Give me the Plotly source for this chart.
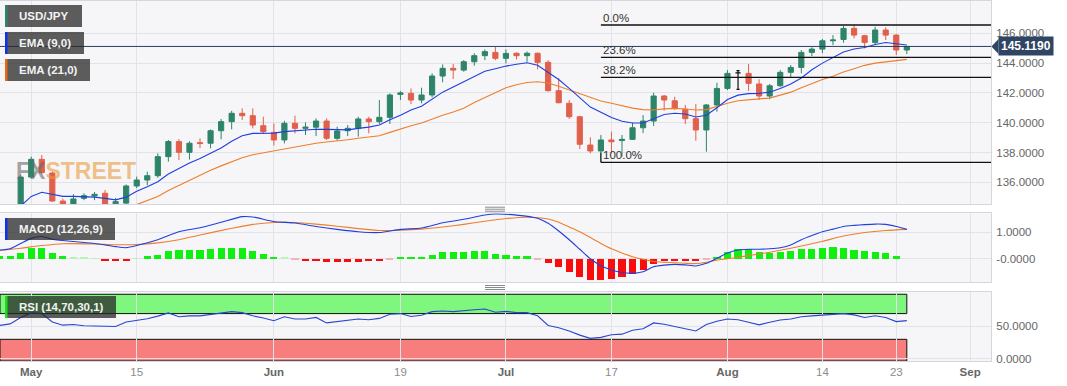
import plotly.graph_objects as go

# ---------------- data ----------------
# trading-day index 0 = 28 Apr 2023
candle_idx = list(range(85))
opens = [133.90, 136.35, 137.54, 136.62, 134.74, 134.30, 134.92, 135.08, 135.26, 134.55,
         134.60, 135.75, 136.15, 136.44, 137.72, 138.73, 138.01, 138.66, 138.62, 139.46,
         140.07, 140.63, 140.47, 139.80, 139.35, 138.84, 139.96, 139.62, 139.70, 140.11,
         138.95, 139.46, 139.62, 140.25, 140.07, 140.36, 141.90, 141.97, 141.52, 141.86,
         143.13, 143.65, 143.53, 144.09, 144.50, 144.72, 144.32, 144.66, 144.50, 144.66,
         144.05, 142.15, 141.30, 140.40, 138.50, 138.10, 138.84, 138.80, 138.88, 139.66,
         140.11, 141.79, 141.47, 140.90, 140.27, 139.51, 141.19, 142.30, 143.35, 143.31,
         142.60, 141.79, 142.48, 143.38, 143.71, 144.72, 144.94, 145.50, 145.59, 146.33,
         145.84, 145.39, 146.22, 145.88, 144.88]
highs = [136.50, 137.72, 137.83, 136.72, 134.90, 135.20, 135.26, 135.35, 135.48, 134.95,
         135.85, 136.38, 136.71, 137.94, 138.84, 138.90, 138.75, 138.95, 139.55, 140.25,
         140.80, 140.96, 140.96, 140.40, 139.95, 140.13, 140.47, 140.02, 140.29, 140.29,
         139.73, 139.84, 140.40, 140.40, 141.52, 141.97, 142.13, 142.30, 142.35, 143.31,
         143.91, 143.95, 144.20, 144.66, 144.92, 145.10, 144.92, 144.72, 144.78, 144.72,
         144.20, 142.98, 141.52, 140.45, 139.02, 139.17, 139.40, 139.17, 140.00, 140.51,
         142.01, 141.86, 141.74, 141.19, 141.25, 141.25, 142.68, 143.53, 143.49, 143.94,
         142.91, 142.60, 143.53, 143.87, 144.88, 145.06, 145.62, 145.88, 146.49, 146.55,
         145.90, 146.44, 146.40, 145.95, 145.15]
lows = [133.40, 136.30, 136.55, 134.70, 133.50, 134.10, 134.80, 134.80, 133.75, 134.20,
        134.40, 135.60, 135.80, 136.30, 137.38, 137.49, 137.52, 138.30, 138.28, 138.88,
        139.55, 140.18, 139.62, 139.28, 138.46, 138.61, 139.28, 139.17, 139.10, 138.84,
        138.80, 139.10, 139.06, 139.28, 139.91, 139.91, 141.52, 141.25, 141.30, 141.70,
        142.71, 142.93, 143.42, 143.82, 144.20, 144.20, 143.98, 144.25, 144.09, 143.58,
        142.08, 141.30, 140.25, 138.23, 137.94, 137.34, 137.94, 137.72, 138.85, 139.30,
        139.78, 140.81, 140.85, 139.91, 138.79, 138.05, 140.74, 142.19, 142.24, 142.13,
        141.52, 141.57, 142.40, 143.04, 143.31, 144.47, 144.66, 145.21, 145.37, 145.66,
        144.99, 145.21, 145.55, 144.54, 144.61]
closes = [136.35, 137.54, 136.65, 134.74, 134.30, 134.88, 135.10, 135.19, 134.28, 134.70,
          135.75, 136.15, 136.44, 137.72, 138.73, 138.01, 138.62, 138.60, 139.46, 140.07,
          140.63, 140.47, 139.84, 139.40, 138.84, 139.96, 139.62, 139.70, 140.11, 138.95,
          139.44, 139.62, 140.25, 140.07, 140.36, 141.86, 142.00, 141.52, 141.86, 143.13,
          143.65, 143.53, 144.09, 144.50, 144.77, 144.32, 144.65, 144.50, 144.66, 144.05,
          142.15, 141.34, 140.40, 138.55, 138.10, 138.84, 138.72, 138.88, 139.66, 140.11,
          141.79, 141.52, 140.96, 140.27, 139.51, 141.19, 142.30, 143.31, 143.35, 142.64,
          141.79, 142.48, 143.38, 143.71, 144.72, 144.94, 145.50, 145.55, 146.33, 145.88,
          145.39, 146.22, 145.88, 144.88, 145.119]
doji_idx = [68]

ema9_idx = list(range(85))
ema9 = [134.4, 135.05, 135.33, 135.2, 135.05, 135.05, 135.05, 135.0, 134.92, 134.82,
        135.0, 135.4, 135.7, 136.04, 136.55, 136.95, 137.3, 137.6, 137.95, 138.3,
        138.75, 139.12, 139.28, 139.3, 139.3, 139.4, 139.45, 139.5, 139.56, 139.55,
        139.52, 139.52, 139.62, 139.7, 139.84, 140.2, 140.5, 140.85, 141.1, 141.6,
        142.05, 142.4, 142.75, 143.15, 143.45, 143.62, 143.8, 143.92, 144.02, 143.85,
        143.4, 142.9, 142.3, 141.65, 141.05, 140.7, 140.35, 140.1, 139.98, 139.98,
        140.25, 140.55, 140.63, 140.58, 140.38, 140.5, 141.0, 141.55, 141.85, 141.95,
        141.97, 142.05, 142.3, 142.6, 143.0, 143.55, 144.0, 144.4, 144.75, 144.95,
        145.05, 145.25, 145.38, 145.3, 145.22]
ema21_idx = list(range(11, 85))
ema21 = [134.5, 134.75, 135.05, 135.45, 135.8, 136.15, 136.45, 136.8, 137.1, 137.4,
         137.65, 137.85, 137.98, 138.07, 138.2, 138.35, 138.5, 138.62, 138.7, 138.75,
         138.85, 138.95, 139.02, 139.12, 139.35, 139.6, 139.8, 139.98, 140.25, 140.5,
         140.72, 140.97, 141.35, 141.7, 142.05, 142.35, 142.55, 142.7, 142.75, 142.66,
         142.45, 142.2, 141.9, 141.65, 141.45, 141.3, 141.12, 140.98, 140.88, 140.85,
         140.93, 140.96, 140.92, 140.85, 140.88, 141.1, 141.3, 141.47, 141.55, 141.6,
         141.65, 141.85, 142.05, 142.35, 142.65, 142.9, 143.12, 143.4, 143.62, 143.85,
         144.0, 144.1, 144.2, 144.25]

ind_idx = list(range(-2, 85))
macd_hist = [0.08, 0.08, 0.22, 0.38, 0.38, 0.22, 0.1, 0.03, 0.02, 0.01,
             -0.08, -0.08, -0.08, 0.01, 0.08, 0.15, 0.3, 0.31, 0.33, 0.33,
             0.36, 0.38, 0.41, 0.38, 0.29, 0.18, 0.07, 0.03, -0.02, -0.08,
             -0.08, -0.12, -0.14, -0.14, -0.13, -0.1, -0.1, -0.02, 0.07, 0.07,
             0.07, 0.14, 0.23, 0.23, 0.25, 0.27, 0.27, 0.18, 0.13, 0.08,
             0.08, -0.03, -0.16, -0.33, -0.5, -0.69, -0.83, -0.83, -0.78, -0.71,
             -0.59, -0.44, -0.21, -0.1, -0.09, -0.09, -0.08, -0.02, 0.07, 0.25,
             0.36, 0.36, 0.24, 0.21, 0.25, 0.3, 0.35, 0.37, 0.4, 0.42,
             0.41, 0.32, 0.27, 0.25, 0.21, 0.08, 0.0]
rsi = [51.5, 54, 64, 71, 70, 57, 52, 53, 51, 51,
       50, 50, 57, 59, 62, 66, 71, 65, 66.5, 66.5,
       69, 71.5, 73, 71.5, 66.5, 63, 59, 65, 61.5, 61.5,
       64, 55.5, 57.5, 59, 61.5, 60.5, 62.5, 69, 70, 65.5,
       67.5, 73, 74, 73, 75, 76, 77, 72, 73.5, 71.5,
       71.5, 66.5, 51.5, 48, 43, 36.5, 31.5, 33, 37, 38,
       44, 46.5, 55.5, 53.5, 50, 46.5, 43, 53, 58, 61.5,
       60.5, 56.5, 52.5, 56.5, 60, 61.5, 65, 66.5, 68, 68.5,
       70, 68, 64, 66.5, 64, 57.5, 59]

macd_x = [-2, -1, 0, 1, 2, 3, 5, 7, 9, 10, 11, 13, 15, 17, 19, 21, 22, 24, 26, 28, 30, 32, 34,
          36, 38, 40, 42, 44, 45, 47, 49, 50, 51, 52, 53, 54] + list(range(55, 85))
macd_line = [0.33, 0.38, 0.58, 0.77, 0.84, 0.74, 0.65, 0.58, 0.46, 0.42, 0.5, 0.72,
             1.02, 1.17, 1.38, 1.59, 1.58, 1.41, 1.35, 1.22, 1.11, 1.02, 0.99, 1.11,
             1.16, 1.36, 1.49, 1.65, 1.69, 1.65, 1.53, 1.34, 1.05, 0.72, 0.36, 0.0,
             -0.26, -0.42, -0.52, -0.55, -0.49, -0.3, -0.24, -0.21, -0.23, -0.27,
             -0.17, 0.02, 0.22, 0.33, 0.36, 0.36, 0.38, 0.42, 0.52, 0.72,
             0.88, 1.02, 1.12, 1.22, 1.26, 1.29, 1.31, 1.3, 1.22, 1.11]
signal_x = [-2, 0, 2, 4, 7, 9, 11, 13, 15, 17, 20, 22, 24, 26, 28, 30, 32, 34, 36, 38, 40, 42,
            44, 46, 48, 50, 51, 52, 53, 54] + list(range(55, 71)) + [72, 74, 76, 78, 80, 82, 84]
signal_line = [0.31, 0.4, 0.5, 0.57, 0.56, 0.53, 0.54, 0.6, 0.72, 0.9, 1.15, 1.3,
               1.37, 1.37, 1.31, 1.23, 1.14, 1.07, 1.08, 1.12, 1.2, 1.3, 1.42, 1.52,
               1.57, 1.5, 1.38, 1.2, 1.02, 0.8,
               0.58, 0.38, 0.22, 0.08, -0.02, -0.1, -0.13, -0.15, -0.17, -0.18, -0.13,
               -0.05, 0.0, 0.06, 0.12, 0.18,
               0.32, 0.48, 0.66, 0.86, 0.99, 1.07, 1.11]

last_price = 145.119
fib_high, fib_low, fib_start = 146.56, 137.34, 55
fib_pcts = [0.0, 23.6, 38.2, 100.0]
rsi_upper, rsi_lower = 70, 30

tick_idx_pos = [1, 11, 24, 36, 46, 56, 67, 76, 83, 90]
tick_labels = ["May", "15", "Jun", "19", "Jul", "17", "Aug", "14", "23", "Sep"]
month_labels = {"May", "Jun", "Jul", "Aug", "Sep"}

price_ticks = [136, 138, 140, 142, 144, 146]

# ---------------- geometry / style ----------------
FIG_W, FIG_H = 1067, 386
ML, MR, MT, MB = 0, 76, 1, 25
PW, PH = FIG_W - ML - MR, FIG_H - MT - MB


def fx(xp):
    return (xp - ML) / PW


def fy(yp):
    return (FIG_H - MB - yp) / PH


X_RANGE = [-1.96, 91.98]
Y_MAIN = [134.52, 148.17]
Y_MACD = [-0.887, 1.717]
Y_RSI = [-3.7, 104.0]

GREEN_C = "#2e8469"
RED_C = "#e0604c"
BLUE = "#1f3fe0"
ORANGE = "#f07d2a"
PLOT_BG = "#f6f6f8"
GRID = "#e2e3e8"
BORDER = "#d3d6dc"
FONT = "Liberation Sans, Arial, sans-serif"

fig = go.Figure()

# candles (regular)
reg = [i for i in candle_idx if i not in doji_idx]
fig.add_trace(go.Candlestick(
    x=reg, open=[opens[i] for i in reg], high=[highs[i] for i in reg],
    low=[lows[i] for i in reg], close=[closes[i] for i in reg],
    increasing=dict(line=dict(color=GREEN_C, width=1), fillcolor=GREEN_C),
    decreasing=dict(line=dict(color=RED_C, width=1), fillcolor=RED_C),
    whiskerwidth=0, xaxis="x", yaxis="y", showlegend=False, hoverinfo="skip"))
fig.add_trace(go.Candlestick(
    x=doji_idx, open=[opens[i] for i in doji_idx], high=[highs[i] for i in doji_idx],
    low=[lows[i] for i in doji_idx], close=[closes[i] for i in doji_idx],
    increasing=dict(line=dict(color="#111", width=1.2), fillcolor="#111"),
    decreasing=dict(line=dict(color="#111", width=1.2), fillcolor="#111"),
    whiskerwidth=0.6, xaxis="x", yaxis="y", showlegend=False, hoverinfo="skip"))

fig.add_trace(go.Scatter(x=ema21_idx, y=ema21, mode="lines", line=dict(color=ORANGE, width=1.1),
                         xaxis="x", yaxis="y", showlegend=False, hoverinfo="skip"))
fig.add_trace(go.Scatter(x=ema9_idx, y=ema9, mode="lines", line=dict(color=BLUE, width=1.1),
                         xaxis="x", yaxis="y", showlegend=False, hoverinfo="skip"))

# MACD histogram
hist_colors = []
for v in macd_hist:
    if v >= 0:
        hist_colors.append("#10f010" if v >= 0.04 else "#b6f3b6")
    else:
        hist_colors.append("#f80c0c" if v <= -0.04 else "#f5b4b4")
fig.add_trace(go.Bar(x=ind_idx, y=macd_hist, marker=dict(color=hist_colors, line=dict(width=0)),
                     width=0.68, xaxis="x2", yaxis="y2", showlegend=False, hoverinfo="skip"))
fig.add_trace(go.Scatter(x=signal_x, y=signal_line, mode="lines",
                         line=dict(color=ORANGE, width=1.1, shape="spline", smoothing=0.6),
                         xaxis="x2", yaxis="y2", showlegend=False, hoverinfo="skip"))
fig.add_trace(go.Scatter(x=macd_x, y=macd_line, mode="lines",
                         line=dict(color=BLUE, width=1.1, shape="spline", smoothing=0.6),
                         xaxis="x2", yaxis="y2", showlegend=False, hoverinfo="skip"))

# RSI
fig.add_trace(go.Scatter(x=ind_idx, y=rsi, mode="lines", line=dict(color="#2a46d0", width=1.1),
                         xaxis="x3", yaxis="y3", showlegend=False, hoverinfo="skip"))

# ---------------- shapes ----------------
shapes = []
# RSI zones
shapes.append(dict(type="rect", xref="x3", yref="y3", x0=X_RANGE[0], x1=candle_idx[-1],
                   y0=rsi_upper, y1=100, fillcolor="#7ff77f", line=dict(color="#111", width=1),
                   layer="below"))
shapes.append(dict(type="rect", xref="x3", yref="y3", x0=X_RANGE[0], x1=candle_idx[-1],
                   y0=Y_RSI[0], y1=rsi_lower, fillcolor="#f87e7e", line=dict(color="#111", width=1),
                   layer="below"))
# last price line
shapes.append(dict(type="line", xref="paper", yref="y", x0=0, x1=1, y0=last_price, y1=last_price,
                   line=dict(color="#2b3d64", width=1)))
# fibonacci lines
for p in fib_pcts:
    lvl = fib_high - p / 100 * (fib_high - fib_low)
    shapes.append(dict(type="line", xref="x", yref="y", x0=fib_start, x1=X_RANGE[1], y0=lvl, y1=lvl,
                       line=dict(color="#111", width=1.3)))
shapes.append(dict(type="line", xref="x", yref="y", x0=fib_start, x1=fib_start,
                   y0=fib_low, y1=fib_low + 0.65, line=dict(color="#111", width=1)))
# drag handles
for y0 in (207.2, 209.2, 211.2, 285.5, 287.5, 289.5):
    shapes.append(dict(type="line", xref="paper", yref="paper", x0=fx(485), x1=fx(505),
                       y0=fy(y0), y1=fy(y0), line=dict(color="#8a8a8a", width=1)))

# legend boxes
boxes = [("USD/JPY", GREEN_C, 82, 5, 27),
         ("EMA (9,0)", "#1030f0", 84, 32, 54),
         ("EMA (21,0)", "#e56a12", 90, 59, 81),
         ("MACD (12,26,9)", "#1030f0", 115, 218, 240),
         ("RSI (14,70,30,1)", "#18e018", 116, 296, 318)]
annotations = []
for text, col, xr, yt, yb in boxes:
    shapes.append(dict(type="rect", xref="paper", yref="paper", x0=fx(5), x1=fx(xr),
                       y0=fy(yb), y1=fy(yt), fillcolor="rgba(38,38,38,0.74)", line=dict(width=0)))
    shapes.append(dict(type="rect", xref="paper", yref="paper", x0=fx(5), x1=fx(7.5),
                       y0=fy(yb), y1=fy(yt), fillcolor=col, line=dict(width=0)))
    annotations.append(dict(text="<b>%s</b>" % text, xref="paper", yref="paper", x=fx(17),
                            y=fy((yt + yb) / 2), xanchor="left", yanchor="middle", showarrow=False,
                            font=dict(family=FONT, size=11.5, color="#f2f2f2")))

# price tag on the right
shapes.append(dict(type="path", xref="paper", yref="y",
                   path="M %f,%f L %f,%f L %f,%f Z" % (fx(991.5), last_price, fx(998.5), last_price + 0.5,
                                                      fx(998.5), last_price - 0.5),
                   fillcolor="#2f4563", line=dict(width=0)))
annotations.append(dict(text="<b>%.4f</b>" % last_price, xref="paper", yref="y", x=fx(998), y=last_price,
                        xanchor="left", yanchor="middle", showarrow=False, bgcolor="#2f4563",
                        borderpad=2, font=dict(family=FONT, size=12, color="#ffffff")))

# fib labels
for p in fib_pcts:
    lvl = fib_high - p / 100 * (fib_high - fib_low)
    annotations.append(dict(text="%.1f%%" % p, xref="x", yref="y", x=fib_start, y=lvl,
                            xanchor="left", yanchor="bottom", xshift=0, yshift=-1, showarrow=False,
                            font=dict(family=FONT, size=11.5, color="#333")))

# watermark
annotations.append(dict(text="<b><span style='color:rgba(105,105,105,0.62)'>FX</span>"
                             "<span style='color:rgba(235,155,60,0.6)'>STREET</span></b>",
                        xref="paper", yref="paper", x=fx(14), y=fy(171), xanchor="left", yanchor="middle",
                        showarrow=False, font=dict(family=FONT, size=23)))

ticktext = []
for t in tick_labels:
    if t in month_labels:
        ticktext.append("<b>%s</b>" % t)
    else:
        ticktext.append("<span style='color:#8c8c8c'>%s</span>" % t)

xcommon = dict(range=X_RANGE, tickvals=tick_idx_pos, showgrid=True, gridcolor=GRID, gridwidth=1,
               zeroline=False, showline=True, mirror=True, linecolor=BORDER, linewidth=1,
               fixedrange=True)
ycommon = dict(side="right", showgrid=True, gridcolor=GRID, zeroline=False, showline=True,
               mirror=True, linecolor=BORDER, ticks="outside", ticklen=2, tickcolor="rgba(0,0,0,0)",
               tickfont=dict(family=FONT, size=11.5, color="#666"))

fig.update_layout(
    width=FIG_W, height=FIG_H, autosize=False,
    margin=dict(l=ML, r=MR, t=MT, b=MB, pad=0),
    paper_bgcolor="white", plot_bgcolor=PLOT_BG,
    font=dict(family=FONT, color="#666"),
    showlegend=False, bargap=0,
    xaxis=dict(domain=[0, 1], anchor="y", showticklabels=False, rangeslider=dict(visible=False), **xcommon),
    xaxis2=dict(domain=[0, 1], anchor="y2", showticklabels=False, **xcommon),
    xaxis3=dict(domain=[0, 1], anchor="y3", showticklabels=True, ticktext=ticktext,
                tickfont=dict(family=FONT, size=11.5, color="#666"), ticks="", **xcommon),
    yaxis=dict(domain=[fy(204.3), fy(1)], anchor="x", range=Y_MAIN, tickvals=price_ticks,
               ticktext=["%.4f" % v for v in price_ticks], **ycommon),
    yaxis2=dict(domain=[fy(282.3), fy(213.3)], anchor="x2", range=Y_MACD, tickvals=[0, 1],
                ticktext=["-0.0000", "1.0000"], **ycommon),
    yaxis3=dict(domain=[fy(361), fy(291.7)], anchor="x3", range=Y_RSI, tickvals=[0, 50],
                ticktext=["0.0000", "50.0000"], **ycommon),
    shapes=shapes, annotations=annotations,
)

fig.write_html("out.html", config={"displayModeBar": False},
               post_script="document.body.style.margin='0';document.body.style.overflow='hidden';")
